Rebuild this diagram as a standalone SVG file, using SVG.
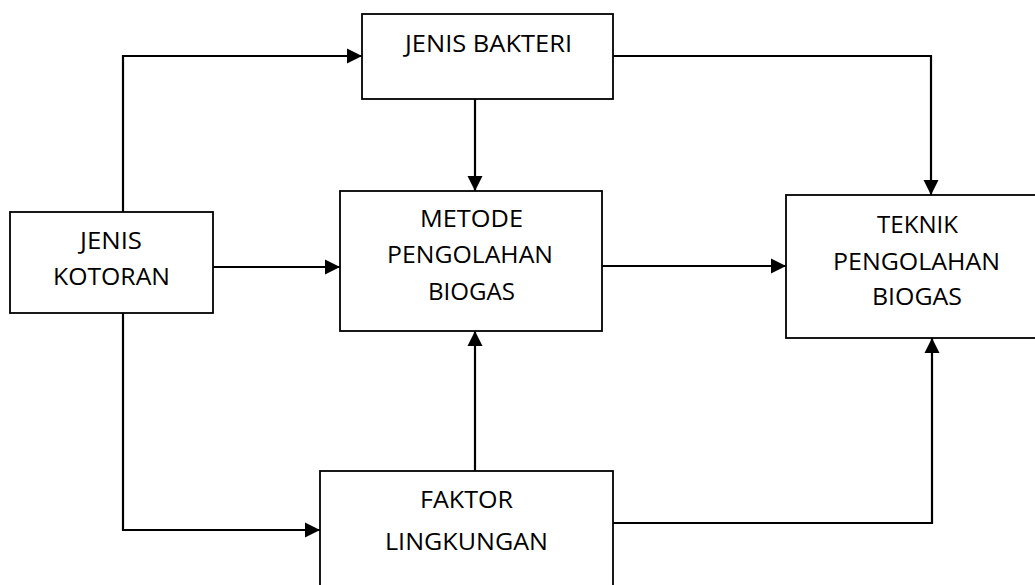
<svg xmlns="http://www.w3.org/2000/svg" width="1035" height="585" viewBox="0 0 1035 585">
  <style>
    .box { fill: #ffffff; stroke: #000000; stroke-width: 1.8; }
    .lbl { font-family: "Open Sans", "Liberation Sans", sans-serif; font-size: 23px; fill: #000000; text-anchor: middle; }
    .conn { fill: none; stroke: #000000; stroke-width: 2.2; }
  </style>
  <defs>
    <marker id="arrow" markerUnits="userSpaceOnUse" markerWidth="16" markerHeight="16" refX="15" refY="8" orient="auto">
      <path d="M0,0.5 L15,8 L0,15.5 z" fill="#000000"/>
    </marker>
  </defs>
  <rect width="1035" height="585" fill="#ffffff"/>

  <g id="connectors">
    <path class="conn" d="M123,212 V56 H362" marker-end="url(#arrow)"/>
    <path class="conn" d="M123,313 V530 H320" marker-end="url(#arrow)"/>
    <path class="conn" d="M213,267 H340" marker-end="url(#arrow)"/>
    <path class="conn" d="M475,99 V191" marker-end="url(#arrow)"/>
    <path class="conn" d="M475,471 V331" marker-end="url(#arrow)"/>
    <path class="conn" d="M602,266 H786" marker-end="url(#arrow)"/>
    <path class="conn" d="M613,56 H931 V195" marker-end="url(#arrow)"/>
    <path class="conn" d="M613,523 H932 V338" marker-end="url(#arrow)"/>
  </g>

  <g id="jenis-bakteri">
    <rect class="box" x="362" y="14" width="251" height="85"/>
    <text class="lbl" x="488.5" y="52" textLength="167" lengthAdjust="spacingAndGlyphs">JENIS BAKTERI</text>
  </g>

  <g id="jenis-kotoran">
    <rect class="box" x="10" y="212" width="203" height="101"/>
    <text class="lbl" x="111" y="249" textLength="62" lengthAdjust="spacingAndGlyphs">JENIS</text>
    <text class="lbl" x="111.5" y="285" textLength="117" lengthAdjust="spacingAndGlyphs">KOTORAN</text>
  </g>

  <g id="metode-pengolahan-biogas">
    <rect class="box" x="340" y="191" width="262" height="140"/>
    <text class="lbl" x="471.5" y="227" textLength="103" lengthAdjust="spacingAndGlyphs">METODE</text>
    <text class="lbl" x="470" y="263" textLength="166" lengthAdjust="spacingAndGlyphs">PENGOLAHAN</text>
    <text class="lbl" x="471.5" y="300" textLength="87" lengthAdjust="spacingAndGlyphs">BIOGAS</text>
  </g>

  <g id="teknik-pengolahan-biogas">
    <rect class="box" x="786" y="195" width="260" height="143"/>
    <text class="lbl" x="917.5" y="233" textLength="81" lengthAdjust="spacingAndGlyphs">TEKNIK</text>
    <text class="lbl" x="916.5" y="270" textLength="167" lengthAdjust="spacingAndGlyphs">PENGOLAHAN</text>
    <text class="lbl" x="917" y="305" textLength="90" lengthAdjust="spacingAndGlyphs">BIOGAS</text>
  </g>

  <g id="faktor-lingkungan">
    <rect class="box" x="320" y="471" width="293" height="130"/>
    <text class="lbl" x="466.5" y="508" textLength="93" lengthAdjust="spacingAndGlyphs">FAKTOR</text>
    <text class="lbl" x="466.5" y="550" textLength="163" lengthAdjust="spacingAndGlyphs">LINGKUNGAN</text>
  </g>
</svg>
